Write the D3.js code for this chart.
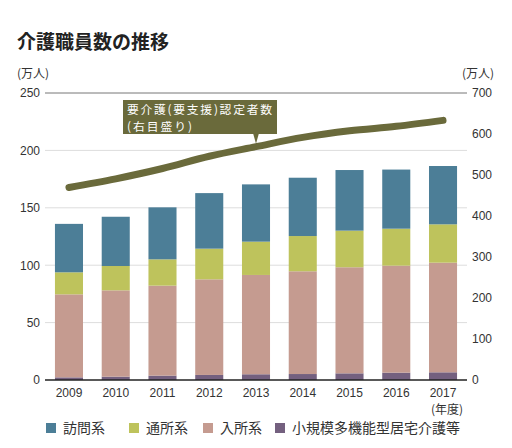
<!DOCTYPE html>
<html><head><meta charset="utf-8">
<script src="https://cdn.jsdelivr.net/npm/d3@7"></script>
<style>
html,body{margin:0;padding:0;background:#fff;}
svg{display:block;font-family:"Noto Sans CJK JP","Noto Sans",sans-serif;}
</style></head>
<body>
<svg id="chart" width="512" height="448"></svg>
<script>
const years = ["2009","2010","2011","2012","2013","2014","2015","2016","2017"];
const houmon = [42.2, 42.9, 45.3, 48.4, 49.9, 50.8, 52.8, 51.5, 50.8];      // 訪問系
const tsusho = [19.2, 21.2, 22.9, 26.7, 29.0, 30.7, 31.9, 32.2, 33.4];      // 通所系
const nyusho = [72.3, 75.2, 78.4, 83.3, 86.5, 89.5, 92.4, 93.2, 95.5];      // 入所系
const shokibo = [2.3, 2.9, 3.8, 4.4, 5.0, 5.2, 5.8, 6.4, 6.7];              // 小規模多機能型居宅介護等
const ninteisha = [469.6, 490.7, 515.8, 545.7, 569.1, 591.8, 607.9, 618.7, 633.2]; // 要介護（要支援）認定者数
const leftTicks = [0, 50, 100, 150, 200, 250];
const rightTicks = [0, 100, 200, 300, 400, 500, 600, 700];
const seriesNames = ["訪問系", "通所系", "入所系", "小規模多機能型居宅介護等"];
const seriesColors = ["#4c7e97", "#bec35c", "#c59b90", "#74607f"];

const svg = d3.select("#chart");
const x = d3.scaleBand().domain(years).range([45.6, 466.4]).paddingInner(0.4).paddingOuter(0.2);
const yL = d3.scaleLinear().domain([0, 250]).range([380, 93]);
const yR = d3.scaleLinear().domain([0, 700]).range([380, 93]);

// title
svg.append("text").attr("x", 17).attr("y", 49).attr("font-size", 19).attr("font-weight", "bold")
  .attr("fill", "#222").text("介護職員数の推移");
svg.append("text").attr("x", 17).attr("y", 78).attr("font-size", 12).attr("fill", "#333").text("(万人)");
svg.append("text").attr("x", 494).attr("y", 78).attr("font-size", 12).attr("fill", "#333")
  .attr("text-anchor", "end").text("(万人)");

// grid
const grid = svg.append("g");
leftTicks.filter(t => t > 0).forEach(t => {
  grid.append("line").attr("x1", 45).attr("x2", 467).attr("y1", yL(t)).attr("y2", yL(t))
    .attr("stroke", t === 250 ? "#777" : "#ddd").attr("stroke-width", 1);
});

// left axis labels
const axL = svg.append("g").attr("transform", "translate(40,0)")
  .call(d3.axisLeft(yL).tickValues(leftTicks).tickSize(0).tickPadding(0));
axL.select(".domain").remove();
axL.selectAll("text").attr("font-size", 12).attr("fill", "#333").attr("font-family", "Liberation Sans, Arial, sans-serif");

// right axis labels
const axR = svg.append("g").attr("transform", "translate(472,0)")
  .call(d3.axisRight(yR).tickValues(rightTicks).tickSize(0).tickPadding(0));
axR.select(".domain").remove();
axR.selectAll("text").attr("font-size", 12).attr("fill", "#333").attr("font-family", "Liberation Sans, Arial, sans-serif");

// stacked bars
const table = years.map((yr, i) => ({year: yr, s3: shokibo[i], s2: nyusho[i], s1: tsusho[i], s0: houmon[i]}));
const stack = d3.stack().keys(["s3", "s2", "s1", "s0"]);
const stacked = stack(table);
const colorByKey = {s0: seriesColors[0], s1: seriesColors[1], s2: seriesColors[2], s3: seriesColors[3]};
svg.append("g").selectAll("g").data(stacked).join("g")
  .attr("fill", d => colorByKey[d.key])
  .selectAll("rect").data(d => d).join("rect")
  .attr("x", d => x(d.data.year)).attr("width", x.bandwidth())
  .attr("y", d => yL(d[1])).attr("height", d => yL(d[0]) - yL(d[1]));

// baseline
svg.append("line").attr("x1", 45).attr("x2", 467).attr("y1", yL(0)).attr("y2", yL(0))
  .attr("stroke", "#222").attr("stroke-width", 1.3);

// x axis labels
const axX = svg.append("g").attr("transform", `translate(0,${yL(0)})`)
  .call(d3.axisBottom(x).tickSize(0).tickPadding(8));
axX.select(".domain").remove();
axX.selectAll("text").attr("font-size", 12).attr("fill", "#333").attr("font-family", "Liberation Sans, Arial, sans-serif");
svg.append("text").attr("x", x("2017") + x.bandwidth() / 2 + 4).attr("y", 414).attr("font-size", 12)
  .attr("text-anchor", "middle").attr("fill", "#333").text("(年度)");

// line
const lineCol = "#6a6a3b";
const line = d3.line().x((d, i) => x(years[i]) + x.bandwidth() / 2).y(d => yR(d)).curve(d3.curveMonotoneX);
svg.append("path").datum(ninteisha).attr("d", line).attr("fill", "none")
  .attr("stroke", lineCol).attr("stroke-width", 7).attr("stroke-linecap", "round");

// callout
const px = x("2013") + x.bandwidth() / 2;
const py = yR(ninteisha[4]);
const cg = svg.append("g");
cg.append("rect").attr("x", px - 133).attr("y", 100).attr("width", 154).attr("height", 34).attr("fill", lineCol);
cg.append("path").attr("d", `M${px - 3},133 L${px + 3},133 L${px},${py - 3} Z`).attr("fill", lineCol);
cg.append("text").attr("x", px - 129).attr("y", 113.5).attr("font-size", 11.8).attr("fill", "#fff")
  .attr("textLength", 145).attr("lengthAdjust", "spacing").text("要介護(要支援)認定者数");
cg.append("text").attr("x", px - 129).attr("y", 130.5).attr("font-size", 11.8).attr("fill", "#fff")
  .attr("textLength", 65).attr("lengthAdjust", "spacing").text("(右目盛り)");

// legend
const legX = [46, 129, 203, 275];
const lg = svg.append("g");
seriesNames.forEach((n, i) => {
  lg.append("rect").attr("x", legX[i]).attr("y", 423).attr("width", 10).attr("height", 10).attr("fill", seriesColors[i]);
  lg.append("text").attr("x", legX[i] + 17).attr("y", 433).attr("font-size", 14).attr("fill", "#333").text(n);
});
</script>
</body></html>
